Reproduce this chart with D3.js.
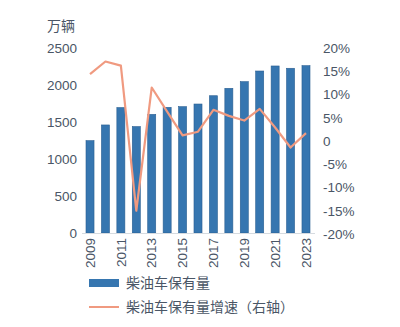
<!DOCTYPE html>
<html><head><meta charset="utf-8">
<script src="https://cdn.jsdelivr.net/npm/d3@7/dist/d3.min.js"></script>
<style>
body{margin:0;background:#fff;}
svg{display:block;font-family:"Liberation Sans","Noto Sans CJK SC",sans-serif;}
</style></head><body>
<svg id="c" width="400" height="327"></svg>
<script>
const years = ["2009","2010","2011","2012","2013","2014","2015","2016","2017","2018","2019","2020","2021","2022","2023"];
const stock = [1248,1460,1695,1438,1603,1698,1707,1743,1855,1955,2045,2189,2257,2226,2261];
const growth = [14.4,17.1,16.2,-15.0,11.5,6.3,1.2,2.0,6.7,5.4,4.4,6.9,2.9,-1.4,1.7];
const leftTicks = [0,500,1000,1500,2000,2500];
const rightTicks = [-20,-15,-10,-5,0,5,10,15,20];
const xLabels = ["2009","2011","2013","2015","2017","2019","2021","2023"];
const unitLabel = "万辆";
const legendBar = "柴油车保有量";
const legendLine = "柴油车保有量增速（右轴）";

const svg = d3.select("#c");
const textCol = "#4a5666";
const barCol = "#3676b0";
const lineCol = "#f09a80";

const x = d3.scaleBand().domain(years).range([82.3, 313.7]).paddingInner(0.48).paddingOuter(0.24);
const yL = d3.scaleLinear().domain([0,2500]).range([233,48]);
const yR = d3.scaleLinear().domain([-20,20]).range([234,48]);

// bars
svg.append("g").selectAll("rect").data(years).join("rect")
  .attr("x", d=>x(d)).attr("width", x.bandwidth())
  .attr("y", (d,i)=>yL(stock[i])).attr("height", (d,i)=>yL(0)-yL(stock[i]))
  .attr("fill", barCol).attr("stroke","#2a5f92").attr("stroke-width",0.6);

// baseline
svg.append("line").attr("x1",82).attr("x2",315).attr("y1",yL(0)+0.5).attr("y2",yL(0)+0.5)
  .attr("stroke","#d6dbe0").attr("stroke-width",1);

// line
const line = d3.line().x((d,i)=>x(years[i])+x.bandwidth()/2).y(d=>yR(d));
svg.append("path").datum(growth).attr("d", line).attr("fill","none")
  .attr("stroke", lineCol).attr("stroke-width",2.2).attr("stroke-linejoin","round");

// left axis
const gl = svg.append("g").attr("transform","translate(80,0)")
  .call(d3.axisLeft(yL).tickValues(leftTicks).tickSize(0).tickPadding(3).tickFormat(d3.format("d")));
gl.select(".domain").remove();
gl.selectAll("text").attr("fill",textCol).style("font-size","13.5px");

// right axis
const gr = svg.append("g").attr("transform","translate(321,0)")
  .call(d3.axisRight(yR).tickValues(rightTicks).tickSize(0).tickPadding(2).tickFormat(d=> d===0 ? "0" : d+"%"));
gr.select(".domain").remove();
gr.selectAll("text").attr("fill",textCol).style("font-size","13.5px");

// x axis labels
const gx = svg.append("g").attr("transform",`translate(0,${yL(0)})`)
  .call(d3.axisBottom(x).tickValues(xLabels).tickSize(0).tickPadding(0));
gx.select(".domain").remove();
gx.selectAll("text").attr("fill",textCol).style("font-size","13.5px")
  .attr("text-anchor","end").attr("dy","0.35em")
  .attr("transform","translate(0,5) rotate(-90)").attr("x",0).attr("y",0);

// unit
svg.append("text").attr("x",47).attr("y",31).text(unitLabel).attr("fill",textCol).style("font-size","14px");

// legend
svg.append("rect").attr("x",89).attr("y",279).attr("width",30).attr("height",8).attr("fill",barCol);
svg.append("text").attr("x",126).attr("y",283).attr("dy","0.35em").text(legendBar).attr("fill",textCol).style("font-size","14px");
svg.append("line").attr("x1",89).attr("x2",119).attr("y1",307).attr("y2",307).attr("stroke",lineCol).attr("stroke-width",2);
svg.append("text").attr("x",126).attr("y",307).attr("dy","0.35em").text(legendLine).attr("fill",textCol).style("font-size","14px");
</script></body></html>
